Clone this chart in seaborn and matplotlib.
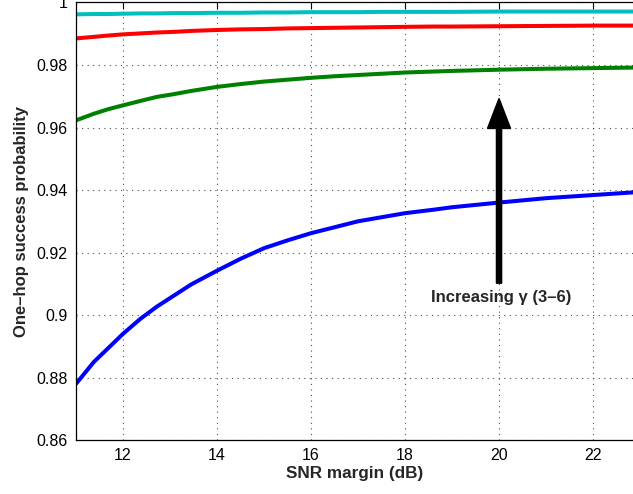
import numpy as np
import pandas as pd
import matplotlib
matplotlib.use("Agg")
import matplotlib.pyplot as plt
import seaborn as sns

# ---- data ----
snr_margin = [11, 11.38, 11.67, 12, 12.37, 12.72, 13.09, 13.45, 14, 14.5, 15,
              15.5, 16, 16.5, 17, 17.5, 18, 18.6, 19, 20, 21, 22, 23]
gamma3 = [0.8780, 0.8850, 0.8892, 0.8940, 0.8988, 0.9027, 0.9063, 0.9098,
          0.9142, 0.9180, 0.9214, 0.9239, 0.9262, 0.9281, 0.9300, 0.9313,
          0.9326, 0.9337, 0.9345, 0.9360, 0.9374, 0.9384, 0.9394]
gamma4 = [0.9623, 0.9644, 0.9658, 0.9671, 0.9685, 0.9698, 0.9707, 0.9717,
          0.9730, 0.9739, 0.9747, 0.9753, 0.9759, 0.9764, 0.9768, 0.9772,
          0.9776, 0.9779, 0.9781, 0.9785, 0.9788, 0.9790, 0.9792]
gamma5 = [0.9885, 0.9890, 0.9894, 0.9898, 0.9901, 0.9904, 0.9906, 0.9909,
          0.9912, 0.9914, 0.9915, 0.9917, 0.9918, 0.9919, 0.9920, 0.9921,
          0.9922, 0.9923, 0.9923, 0.9924, 0.9925, 0.9926, 0.9926]
gamma6 = [0.9962, 0.9963, 0.9963, 0.9964, 0.9965, 0.9965, 0.9966, 0.9966,
          0.9967, 0.9967, 0.9968, 0.9968, 0.9969, 0.9969, 0.9969, 0.9970,
          0.9970, 0.9970, 0.9970, 0.9971, 0.9971, 0.9971, 0.9971]
series_names = ["γ=3", "γ=4", "γ=5", "γ=6"]
series_colors = ["#0000ff", "#008000", "#ff0000", "#00bfbf"]
x_ticks = [12, 14, 16, 18, 20, 22]
y_ticks = [0.86, 0.88, 0.90, 0.92, 0.94, 0.96, 0.98, 1.0]
y_tick_labels = ["0.86", "0.88", "0.9", "0.92", "0.94", "0.96", "0.98", "1"]
annotation_text = "Increasing γ (3–6)"
arrow_x = 20
arrow_y_start = 0.9102
arrow_y_end = 0.9693
text_pos = (20.05, 0.9057)

df = pd.DataFrame({
    "snr": snr_margin * 4,
    "p": gamma3 + gamma4 + gamma5 + gamma6,
    "series": sum([[n] * len(snr_margin) for n in series_names], []),
})

sns.set_style("white")
plt.rcParams["font.family"] = ["Liberation Sans", "DejaVu Sans"]

fig = plt.figure(figsize=(6.33, 4.94), dpi=100)
ax = fig.add_axes([0.120, 0.109, 0.880, 0.886])

sns.lineplot(data=df, x="snr", y="p", hue="series", palette=series_colors,
             linewidth=2.9, ax=ax, legend=False)

ax.set_xlim(11, 22.85)
ax.set_ylim(0.86, 1.0)
ax.set_xticks(x_ticks)
ax.set_yticks(y_ticks)
ax.set_yticklabels(y_tick_labels)
ax.tick_params(axis="both", direction="in", length=5, width=0.8,
               labelsize=11.5, colors="black", top=True, right=False, pad=6)
ax.grid(True, color="0.3", linestyle=(0, (1, 4)), linewidth=0.8)
for s in ["left", "bottom", "top"]:
    ax.spines[s].set_visible(True)
    ax.spines[s].set_color("black")
    ax.spines[s].set_linewidth(0.9)
ax.spines["right"].set_visible(False)

ax.set_xlabel("SNR margin (dB)", fontsize=12.3, fontweight="bold", labelpad=2)
ax.set_ylabel("One–hop success probability", fontsize=12, fontweight="bold",
              labelpad=5)

ax.arrow(arrow_x, arrow_y_start, 0, arrow_y_end - arrow_y_start,
         width=0.11, head_width=0.49, head_length=0.0096,
         length_includes_head=True, color="black", zorder=5)
ax.text(text_pos[0], text_pos[1], annotation_text, fontsize=12,
        fontweight="bold", ha="center", va="center")

fig.savefig("out.png", dpi=100)
